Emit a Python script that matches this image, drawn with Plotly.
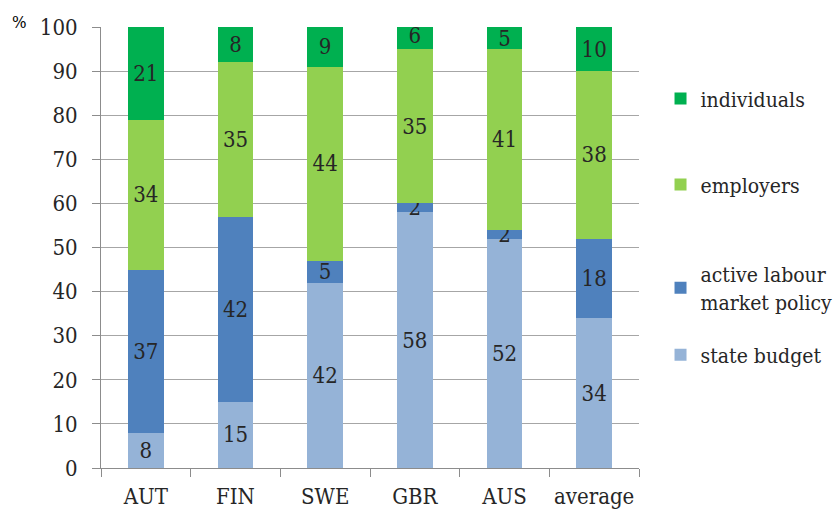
import plotly.graph_objects as go

categories = ["AUT", "FIN", "SWE", "GBR", "AUS", "average"]
state_budget = [8, 15, 42, 58, 52, 34]
active_labour = [37, 42, 5, 2, 2, 18]
employers = [34, 35, 44, 35, 41, 38]
individuals = [21, 8, 9, 6, 5, 10]

# name, values, colour, legend id, vertical centre of its legend entry (paper units)
series = [
    ("state budget", state_budget, "#95B3D7", "legend5", 0.256),
    ("active labour<br>market policy", active_labour, "#4F81BD", "legend4", 0.408),
    ("employers", employers, "#92D050", "legend3", 0.642),
    ("individuals", individuals, "#00B050", "legend2", 0.837),
]

FONT = "DejaVu Serif Condensed, DejaVu Serif"
TEXT_COLOR = "#262626"

fig = go.Figure()
legends = {}
for name, vals, color, leg, ypos in series:
    fig.add_trace(go.Bar(
        x=categories, y=vals, name=name,
        marker=dict(color=color, line=dict(width=0)),
        text=[str(v) for v in vals],
        textposition="inside", insidetextanchor="middle", textangle=0,
        textfont=dict(family=FONT, size=22, color=TEXT_COLOR),
        legend=leg, showlegend=True,
    ))
    legends[leg] = dict(
        x=1.04, y=ypos, xanchor="left", yanchor="middle",
        font=dict(family=FONT, size=21, color=TEXT_COLOR),
        itemwidth=30, bgcolor="rgba(0,0,0,0)",
    )

fig.update_layout(
    barmode="stack",
    bargap=0.6,
    width=839, height=513,
    margin=dict(l=101, r=200, t=27, b=45, autoexpand=False),
    plot_bgcolor="white", paper_bgcolor="white",
    font=dict(family=FONT, size=22, color=TEXT_COLOR),
    uniformtext=dict(minsize=22, mode="show"),
    showlegend=True,
    xaxis=dict(
        type="category", tickangle=0,
        showline=True, linecolor="#8C8C8C", linewidth=1,
        ticks="outside", tickson="boundaries", ticklen=8, tickcolor="#8C8C8C",
        ticklabelstandoff=9,
        tickfont=dict(family=FONT, size=22, color=TEXT_COLOR),
        showgrid=False,
    ),
    yaxis=dict(
        range=[0, 100], dtick=10,
        showline=True, linecolor="#8C8C8C", linewidth=1,
        ticks="outside", ticklen=8, tickcolor="#8C8C8C",
        ticklabelstandoff=10,
        showgrid=True, gridcolor="#A6A6A6", gridwidth=1,
        zeroline=False,
        tickfont=dict(family=FONT, size=22, color=TEXT_COLOR),
    ),
    annotations=[dict(
        text="%", xref="paper", yref="paper", x=-0.17, y=0.985,
        xanchor="left", yanchor="bottom", showarrow=False,
        font=dict(family=FONT, size=17, color="black"),
    )],
    **legends,
)

fig.write_html("out.html")
